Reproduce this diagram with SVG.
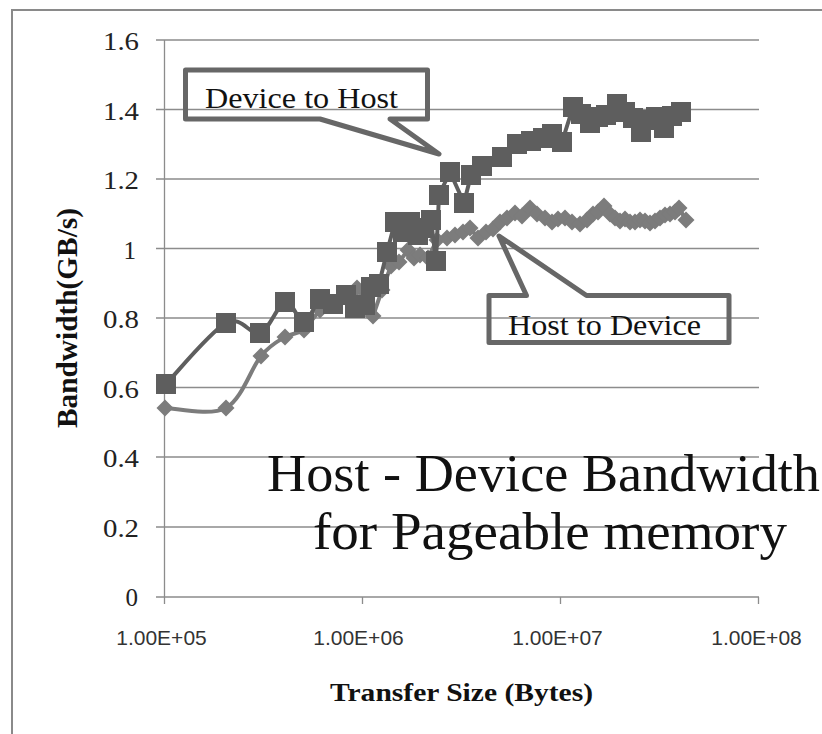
<svg xmlns="http://www.w3.org/2000/svg" xmlns:xlink="http://www.w3.org/1999/xlink" width="822" height="734" viewBox="0 0 822 734">
  <style>
    .frame { stroke: #8a8a8a; stroke-width: 2; fill: none; }
    .grid { stroke: #8c8c8c; stroke-width: 1.3; fill: none; }
    .ylab { font-family: "Liberation Serif", "Times New Roman", serif; font-size: 25px; fill: #222; text-anchor: end; }
    .xlab { font-family: "Liberation Sans", Arial, sans-serif; font-size: 21px; fill: #333; text-anchor: middle; }
    .axtitle { font-family: "Liberation Serif", "Times New Roman", serif; font-weight: bold; fill: #111; }
    .callout { fill: none; stroke: #676767; stroke-width: 5; stroke-linejoin: round; }
    .calltext { font-family: "Liberation Serif", "Times New Roman", serif; font-size: 29px; fill: #111; }
    .title { font-family: "Liberation Serif", "Times New Roman", serif; font-size: 52px; fill: #111; }
    .h2d-line { fill: none; stroke: #7c7c7c; stroke-width: 4; stroke-linejoin: round; stroke-linecap: round; }
    .d2h-line { fill: none; stroke: #5e5e5e; stroke-width: 4; stroke-linejoin: round; stroke-linecap: round; }
  </style>
  <defs>
    <rect id="sq" x="-10" y="-10" width="20" height="20" fill="#5e5e5e"/>
    <polygon id="dm" points="0,-8.5 8.5,0 0,8.5 -8.5,0" fill="#7c7c7c"/>
  </defs>

  <rect width="822" height="734" fill="#ffffff"/>

  <!-- outer frame (left and top edges) -->
  <path class="frame" d="M12,734 V10 H822"/>

  <!-- gridlines and axes -->
  <g id="axes">
    <path class="grid" d="M156,40 H759 M156,109.5 H759 M156,179 H759 M156,248.5 H759 M156,318 H759 M156,387.5 H759 M156,457 H759 M156,527 H759 M156,597 H759"/>
    <path class="grid" d="M164.5,40 V604 M362.5,597 V604 M560.5,597 V604 M758.5,597 V604"/>
  </g>

  <!-- y tick labels -->
  <g id="y-labels">
    <text class="ylab" x="139" y="50" textLength="36" lengthAdjust="spacingAndGlyphs">1.6</text>
    <text class="ylab" x="139" y="119.5" textLength="36" lengthAdjust="spacingAndGlyphs">1.4</text>
    <text class="ylab" x="139" y="189" textLength="36" lengthAdjust="spacingAndGlyphs">1.2</text>
    <text class="ylab" x="136" y="258.5">1</text>
    <text class="ylab" x="139" y="328" textLength="36" lengthAdjust="spacingAndGlyphs">0.8</text>
    <text class="ylab" x="139" y="397.5" textLength="36" lengthAdjust="spacingAndGlyphs">0.6</text>
    <text class="ylab" x="139" y="467" textLength="36" lengthAdjust="spacingAndGlyphs">0.4</text>
    <text class="ylab" x="139" y="537" textLength="36" lengthAdjust="spacingAndGlyphs">0.2</text>
    <text class="ylab" x="138" y="606">0</text>
  </g>

  <!-- x tick labels -->
  <g id="x-labels">
    <text class="xlab" x="161.5" y="645">1.00E+05</text>
    <text class="xlab" x="358.5" y="645">1.00E+06</text>
    <text class="xlab" x="557.5" y="645">1.00E+07</text>
    <text class="xlab" x="756.5" y="645">1.00E+08</text>
  </g>

  <!-- axis titles -->
  <text class="axtitle" font-size="29" transform="translate(77,318) rotate(-90)" text-anchor="middle" textLength="220" lengthAdjust="spacingAndGlyphs">Bandwidth(GB/s)</text>
  <text class="axtitle" font-size="26" x="330" y="701" textLength="263" lengthAdjust="spacingAndGlyphs">Transfer Size (Bytes)</text>

  <!-- series: Host to Device (diamonds) -->
  <g id="host-to-device">
    <path class="h2d-line" d="M165,408 C175,408 210,416.7 226,408 C242,399.3 251.2,367.8 261,356 C270.8,344.2 277.8,341.3 285,337 C292.2,332.7 298.2,334.2 304,330 L320,310 L333,303 L346,296 L357,288 L365,300 L373,316 L382,290 L391,266 L399,262 L408,250 L414,258 L420,255 L428,258 L437,240 L447,238 L455,235 L463,232 L470,228 L478,238 L486,232 L493,229 L500,222 L507,218 L515,213 L522,216 L530,208 L537,214 L545,218 L552,222 L558,219 L565,218 L572,222 L580,224 L587,220 L593,214 L598,212 L604,206 L610,214 L615,218 L620,221 L625,219 L630,222 L635,222 L640,220 L645,221 L650,223 L655,221 L660,218 L665,215 L670,214 L675,212 L679,208 L686,220"/>
    <use xlink:href="#dm" x="165" y="408"/><use xlink:href="#dm" x="226" y="408"/><use xlink:href="#dm" x="261" y="356"/>
    <use xlink:href="#dm" x="285" y="337"/><use xlink:href="#dm" x="304" y="330"/><use xlink:href="#dm" x="320" y="310"/>
    <use xlink:href="#dm" x="333" y="303"/><use xlink:href="#dm" x="346" y="296"/><use xlink:href="#dm" x="357" y="288"/>
    <use xlink:href="#dm" x="365" y="300"/><use xlink:href="#dm" x="373" y="316"/><use xlink:href="#dm" x="382" y="290"/>
    <use xlink:href="#dm" x="391" y="266"/><use xlink:href="#dm" x="399" y="262"/><use xlink:href="#dm" x="408" y="250"/>
    <use xlink:href="#dm" x="414" y="258"/><use xlink:href="#dm" x="420" y="255"/><use xlink:href="#dm" x="428" y="258"/>
    <use xlink:href="#dm" x="437" y="240"/><use xlink:href="#dm" x="447" y="238"/><use xlink:href="#dm" x="455" y="235"/>
    <use xlink:href="#dm" x="463" y="232"/><use xlink:href="#dm" x="470" y="228"/><use xlink:href="#dm" x="478" y="238"/>
    <use xlink:href="#dm" x="486" y="232"/><use xlink:href="#dm" x="493" y="229"/><use xlink:href="#dm" x="500" y="222"/>
    <use xlink:href="#dm" x="507" y="218"/><use xlink:href="#dm" x="515" y="213"/><use xlink:href="#dm" x="522" y="216"/>
    <use xlink:href="#dm" x="530" y="208"/><use xlink:href="#dm" x="537" y="214"/><use xlink:href="#dm" x="545" y="218"/>
    <use xlink:href="#dm" x="552" y="222"/><use xlink:href="#dm" x="558" y="219"/><use xlink:href="#dm" x="565" y="218"/>
    <use xlink:href="#dm" x="572" y="222"/><use xlink:href="#dm" x="580" y="224"/><use xlink:href="#dm" x="587" y="220"/>
    <use xlink:href="#dm" x="593" y="214"/><use xlink:href="#dm" x="598" y="212"/><use xlink:href="#dm" x="604" y="206"/>
    <use xlink:href="#dm" x="610" y="214"/><use xlink:href="#dm" x="615" y="218"/><use xlink:href="#dm" x="620" y="221"/>
    <use xlink:href="#dm" x="625" y="219"/><use xlink:href="#dm" x="630" y="222"/><use xlink:href="#dm" x="635" y="222"/>
    <use xlink:href="#dm" x="640" y="220"/><use xlink:href="#dm" x="645" y="221"/><use xlink:href="#dm" x="650" y="223"/>
    <use xlink:href="#dm" x="655" y="221"/><use xlink:href="#dm" x="660" y="218"/><use xlink:href="#dm" x="665" y="215"/>
    <use xlink:href="#dm" x="670" y="214"/><use xlink:href="#dm" x="675" y="212"/><use xlink:href="#dm" x="679" y="208"/>
    <use xlink:href="#dm" x="686" y="220"/>
  </g>

  <!-- series: Device to Host (squares) -->
  <g id="device-to-host">
    <path class="d2h-line" d="M166,384 C176,373.8 210.3,331.5 226,323 C241.7,314.5 250.2,336.5 260,333 C269.8,329.5 277.7,303.8 285,302 C292.3,300.2 298.2,322.5 304,322 C309.8,321.5 315.2,302 320,299 L333,304 L346,295 L355,308 L365,305 L371,287 L379,284 L387,252 L395,222 L403,232 L410,222 L418,235 L424,228 L431,220 L436,261 L439,195 L450,172 L464,203 L471,175 L482,166 L502,157 L517,144 L531,141 L543,138 L552,134 L562,142 L573,107 L581,114 L590,123 L598,117 L606,115 L617,104 L625,112 L633,118 L641,132 L648,120 L656,117 L664,128 L672,116 L681,112"/>
    <use xlink:href="#sq" x="166" y="384"/><use xlink:href="#sq" x="226" y="323"/><use xlink:href="#sq" x="260" y="333"/>
    <use xlink:href="#sq" x="285" y="302"/><use xlink:href="#sq" x="304" y="322"/><use xlink:href="#sq" x="320" y="299"/>
    <use xlink:href="#sq" x="333" y="304"/><use xlink:href="#sq" x="346" y="295"/><use xlink:href="#sq" x="355" y="308"/>
    <use xlink:href="#sq" x="365" y="305"/><use xlink:href="#sq" x="371" y="287"/><use xlink:href="#sq" x="379" y="284"/>
    <use xlink:href="#sq" x="387" y="252"/><use xlink:href="#sq" x="395" y="222"/><use xlink:href="#sq" x="403" y="232"/>
    <use xlink:href="#sq" x="410" y="222"/><use xlink:href="#sq" x="418" y="235"/><use xlink:href="#sq" x="424" y="228"/>
    <use xlink:href="#sq" x="431" y="220"/><use xlink:href="#sq" x="436" y="261"/><use xlink:href="#sq" x="439" y="195"/>
    <use xlink:href="#sq" x="450" y="172"/><use xlink:href="#sq" x="464" y="203"/><use xlink:href="#sq" x="471" y="175"/>
    <use xlink:href="#sq" x="482" y="166"/><use xlink:href="#sq" x="502" y="157"/><use xlink:href="#sq" x="517" y="144"/>
    <use xlink:href="#sq" x="531" y="141"/><use xlink:href="#sq" x="543" y="138"/><use xlink:href="#sq" x="552" y="134"/>
    <use xlink:href="#sq" x="562" y="142"/><use xlink:href="#sq" x="573" y="107"/><use xlink:href="#sq" x="581" y="114"/>
    <use xlink:href="#sq" x="590" y="123"/><use xlink:href="#sq" x="598" y="117"/><use xlink:href="#sq" x="606" y="115"/>
    <use xlink:href="#sq" x="617" y="104"/><use xlink:href="#sq" x="625" y="112"/><use xlink:href="#sq" x="633" y="118"/>
    <use xlink:href="#sq" x="641" y="132"/><use xlink:href="#sq" x="648" y="120"/><use xlink:href="#sq" x="656" y="117"/>
    <use xlink:href="#sq" x="664" y="128"/><use xlink:href="#sq" x="672" y="116"/><use xlink:href="#sq" x="681" y="112"/>
  </g>

  <!-- callout labels -->
  <g id="callout-device-to-host">
    <path class="callout" d="M185.5,70 H427.5 V119 H390 L439,154 L320,119 H185.5 Z"/>
    <text class="calltext" x="205" y="108" textLength="193" lengthAdjust="spacingAndGlyphs">Device to Host</text>
  </g>
  <g id="callout-host-to-device">
    <path class="callout" d="M489,295.5 H526.5 L499,236 L586.5,295.5 H729 V342.5 H489 Z"/>
    <text class="calltext" x="508" y="335" textLength="193" lengthAdjust="spacingAndGlyphs">Host to Device</text>
  </g>

  <!-- chart title -->
  <g id="title">
    <text class="title" x="267" y="491" textLength="553" lengthAdjust="spacingAndGlyphs">Host - Device Bandwidth</text>
    <text class="title" x="313" y="549" textLength="474" lengthAdjust="spacingAndGlyphs">for Pageable memory</text>
  </g>
</svg>
